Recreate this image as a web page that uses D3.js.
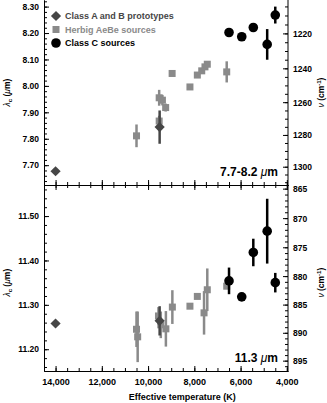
<!DOCTYPE html>
<html><head><meta charset="utf-8">
<script src="https://cdn.jsdelivr.net/npm/d3@7"></script>
<style>
body{margin:0;background:#fff;}
svg{display:block;font-family:"Liberation Sans",Arial,Helvetica,sans-serif;}
</style></head>
<body><svg id="c" width="327" height="403"></svg>
<script>
// ---- data ----
const protoTemp = [14000, 9500];
const protoLamTop = [7.677, 7.844];
const protoErrTop = [0, 0.063];
const protoLamBot = [11.258, 11.264];
const protoErrBot = [0, 0.033];

const herbigTempTop = [10500, 9520, 9520, 9380, 9240, 8960, 8190, 7870, 7680, 7540, 7440, 6600];
const herbigLamTop  = [7.811, 7.867, 7.955, 7.946, 7.918, 8.047, 7.996, 8.041, 8.057, 8.072, 8.082, 8.053];
const herbigErrTop  = [0.043, 0.02, 0.03, 0.02, 0.015, 0, 0, 0, 0, 0, 0, 0.04];

const herbigTempBot = [10500, 10450, 9550, 9450, 9230, 8950, 8190, 7870, 7580, 7440, 6600];
const herbigLamBot  = [11.245, 11.228, 11.275, 11.255, 11.246, 11.295, 11.297, 11.319, 11.282, 11.334, 11.342];
const herbigErrBot  = [0.04, 0.057, 0.02, 0.03, 0.04, 0.038, 0, 0, 0.049, 0.048, 0.006];

const classCTemp   = [6500, 5950, 5450, 4850, 4500];
const classCLamTop = [8.202, 8.186, 8.221, 8.157, 8.268];
const classCErrTop = [0, 0, 0, 0.058, 0.032];
const classCLamBot = [11.354, 11.318, 11.418, 11.466, 11.350];
const classCErrBot = [0.03, 0, 0.031, 0.073, 0.022];

const xTicks = [14000, 12000, 10000, 8000, 6000, 4000];
const topLamTicks = [7.70, 7.80, 7.90, 8.00, 8.10, 8.20, 8.30];
const botLamTicks = [11.20, 11.30, 11.40, 11.50];
const topNuTicks = [1220, 1240, 1260, 1280, 1300];
const botNuTicks = [865, 870, 875, 880, 885, 890, 895];
const legendLabels = ["Class A and B prototypes", "Herbig AeBe sources", "Class C sources"];
const panelLabels = ["7.7-8.2 ", "11.3 "];

// ---- style ----
const COL_PROTO = "#464646", COL_HERBIG = "#8a8a8a", COL_C = "#000";
const L = 44, R = 288, MID = 185, BOT = 371, TOP = 0;
const DIAM = 52;

const svg = d3.select("#c");
const x = d3.scaleLinear().domain([14500, 3950]).range([L, R]);
const yT = d3.scaleLinear().domain([7.625, 8.325]).range([MID, TOP]);
const yB = d3.scaleLinear().domain([11.151, 11.570]).range([BOT, MID]);

function rangeStep(a, b, s) { const r = []; for (let v = a; v <= b + 1e-9; v += s) r.push(+v.toFixed(4)); return r; }

const tickFont = g => g.selectAll("text").attr("font-size", 8.5).attr("font-weight", "bold").attr("fill", "#000");
const clean = g => { g.select(".domain").attr("stroke", "#000"); g.selectAll(".tick line").attr("stroke", "#000"); };

// x axes
const xMinor = rangeStep(4000, 14500, 500);
function xAxisAt(yPos, dirUp, labels) {
  const ax = (dirUp ? d3.axisBottom(x) : d3.axisTop(x)).tickSizeOuter(0);
  svg.append("g").attr("transform", `translate(0,${yPos})`)
    .call((dirUp ? d3.axisBottom(x) : d3.axisTop(x)).tickValues(xMinor).tickFormat("").tickSizeInner(-3).tickSizeOuter(0))
    .call(clean);
  const g = svg.append("g").attr("transform", `translate(0,${yPos})`)
    .call(ax.tickValues(xTicks).tickSizeInner(-5).tickPadding(8).tickFormat(labels ? d3.format(",") : ""))
    .call(clean);
  g.selectAll("text").attr("font-size", 9).attr("font-weight", "bold").attr("fill", "#000");
}
xAxisAt(MID, true, false);
xAxisAt(MID, false, false);
xAxisAt(BOT, true, true);

// left axes
function leftAxis(y, ticks, minorStep, fmt) {
  const d = y.domain();
  const minor = rangeStep(Math.ceil(d[0] / minorStep) * minorStep, d[1], minorStep);
  svg.append("g").attr("transform", `translate(${L},0)`)
    .call(d3.axisLeft(y).tickValues(minor).tickFormat("").tickSizeInner(-3).tickSizeOuter(0)).call(clean);
  svg.append("g").attr("transform", `translate(${L},0)`)
    .call(d3.axisLeft(y).tickValues(ticks).tickFormat(d3.format(fmt)).tickSizeInner(-5).tickSizeOuter(0).tickPadding(5))
    .call(clean).call(tickFont);
}
leftAxis(yT, topLamTicks, 0.02, ".2f");
leftAxis(yB, botLamTicks, 0.02, ".2f");

// right axes (wavenumber, cm^-1 = 1e4 / lambda[um])
function rightAxis(y, ticks, minorStep) {
  const d = y.domain();
  const nuLo = 1e4 / d[1], nuHi = 1e4 / d[0];
  const minor = rangeStep(Math.ceil(nuLo / minorStep) * minorStep, nuHi, minorStep);
  const g = svg.append("g").attr("transform", `translate(${R},0)`);
  g.append("line").attr("x1", 0).attr("x2", 0).attr("y1", y.range()[1]).attr("y2", y.range()[0]).attr("stroke", "#000");
  g.selectAll("line.mn").data(minor).join("line").attr("class", "mn")
    .attr("x1", 0).attr("x2", -3).attr("y1", v => y(1e4 / v)).attr("y2", v => y(1e4 / v)).attr("stroke", "#000");
  g.selectAll("line.mj").data(ticks).join("line").attr("class", "mj")
    .attr("x1", 0).attr("x2", -5).attr("y1", v => y(1e4 / v)).attr("y2", v => y(1e4 / v)).attr("stroke", "#000");
  g.selectAll("text").data(ticks).join("text")
    .attr("x", 5).attr("y", v => y(1e4 / v)).attr("dy", "0.35em")
    .attr("font-size", 8.5).attr("font-weight", "bold").text(v => v);
}
rightAxis(yT, topNuTicks, 5);
rightAxis(yB, botNuTicks, 1);

// axis titles
function lamTitle(cy) {
  const t = svg.append("text").attr("transform", `translate(10,${cy}) rotate(-90)`)
    .attr("text-anchor", "middle").attr("font-size", 8.5).attr("font-weight", "bold");
  t.append("tspan").attr("font-style", "italic").attr("font-weight", "normal").text("λ");
  t.append("tspan").attr("font-size", 6).attr("dy", 2).text("c");
  t.append("tspan").attr("dy", -2).text(" (");
  t.append("tspan").attr("font-style", "italic").attr("font-weight", "normal").text("μ");
  t.append("tspan").text("m)");
}
lamTitle(yT(7.975));
lamTitle(yB(11.35));
function nuTitle(cy) {
  const t = svg.append("text").attr("transform", `translate(324,${cy}) rotate(-90)`)
    .attr("text-anchor", "middle").attr("font-size", 8.5).attr("font-weight", "bold");
  t.append("tspan").attr("font-style", "italic").attr("font-weight", "normal").text("ν");
  t.append("tspan").text(" (cm");
  t.append("tspan").attr("font-size", 6).attr("dy", -3).text("-1");
  t.append("tspan").attr("dy", 3).text(")");
}
nuTitle(yT(7.975));
nuTitle(yB(11.35));
svg.append("text").attr("x", (x(12000) + x(4000)) / 2 - 12).attr("y", 400).attr("text-anchor", "middle")
  .attr("font-size", 9).attr("font-weight", "bold").text("Effective temperature (K)");

// panel labels
function panelLabel(txt, yy) {
  const t = svg.append("text").attr("x", 278).attr("y", yy).attr("text-anchor", "end")
    .attr("font-size", 12).attr("font-weight", "bold");
  t.append("tspan").text(txt);
  t.append("tspan").attr("font-style", "italic").attr("font-weight", "normal").text("μ");
  t.append("tspan").text("m");
}
panelLabel(panelLabels[0], 176);
panelLabel(panelLabels[1], 362);

// markers
function series(temps, vals, errs, y, color, kind) {
  const data = temps.map((t, i) => ({ t, v: vals[i], e: errs[i] }));
  const g = svg.append("g");
  g.selectAll("line").data(data.filter(d => d.e > 0)).join("line")
    .attr("x1", d => x(d.t)).attr("x2", d => x(d.t))
    .attr("y1", d => y(d.v - d.e)).attr("y2", d => y(d.v + d.e))
    .attr("stroke", color).attr("stroke-width", 2.5);
  if (kind === "square") {
    g.selectAll("rect").data(data).join("rect")
      .attr("x", d => x(d.t) - 3.5).attr("y", d => y(d.v) - 3.5).attr("width", 7).attr("height", 7).attr("fill", color);
  } else if (kind === "circle") {
    g.selectAll("circle").data(data).join("circle")
      .attr("cx", d => x(d.t)).attr("cy", d => y(d.v)).attr("r", 4.8).attr("fill", color);
  } else {
    g.selectAll("path").data(data).join("path")
      .attr("transform", d => `translate(${x(d.t)},${y(d.v)}) rotate(45)`)
      .attr("d", d3.symbol().type(d3.symbolSquare).size(DIAM)).attr("fill", color);
  }
}
series(herbigTempTop, herbigLamTop, herbigErrTop, yT, COL_HERBIG, "square");
series(protoTemp, protoLamTop, protoErrTop, yT, COL_PROTO, "diamond");
series(classCTemp, classCLamTop, classCErrTop, yT, COL_C, "circle");
series(herbigTempBot, herbigLamBot, herbigErrBot, yB, COL_HERBIG, "square");
series(protoTemp, protoLamBot, protoErrBot, yB, COL_PROTO, "diamond");
series(classCTemp, classCLamBot, classCErrBot, yB, COL_C, "circle");

// legend
const legCols = [COL_PROTO, COL_HERBIG, COL_C];
const legKinds = ["diamond", "square", "circle"];
const lg = svg.append("g");
legendLabels.forEach((lab, i) => {
  const cy = 16 + i * 13.5, cx = 56;
  if (legKinds[i] === "diamond") lg.append("path").attr("transform", `translate(${cx},${cy}) rotate(45)`)
    .attr("d", d3.symbol().type(d3.symbolSquare).size(DIAM)).attr("fill", legCols[i]);
  else if (legKinds[i] === "square") lg.append("rect").attr("x", cx - 3.5).attr("y", cy - 3.5).attr("width", 7).attr("height", 7).attr("fill", legCols[i]);
  else lg.append("circle").attr("cx", cx).attr("cy", cy).attr("r", 4.8).attr("fill", legCols[i]);
  lg.append("text").attr("x", 65).attr("y", cy).attr("dy", "0.35em").attr("font-size", 9).attr("font-weight", "bold")
    .attr("fill", legCols[i]).text(lab);
});
</script></body></html>
